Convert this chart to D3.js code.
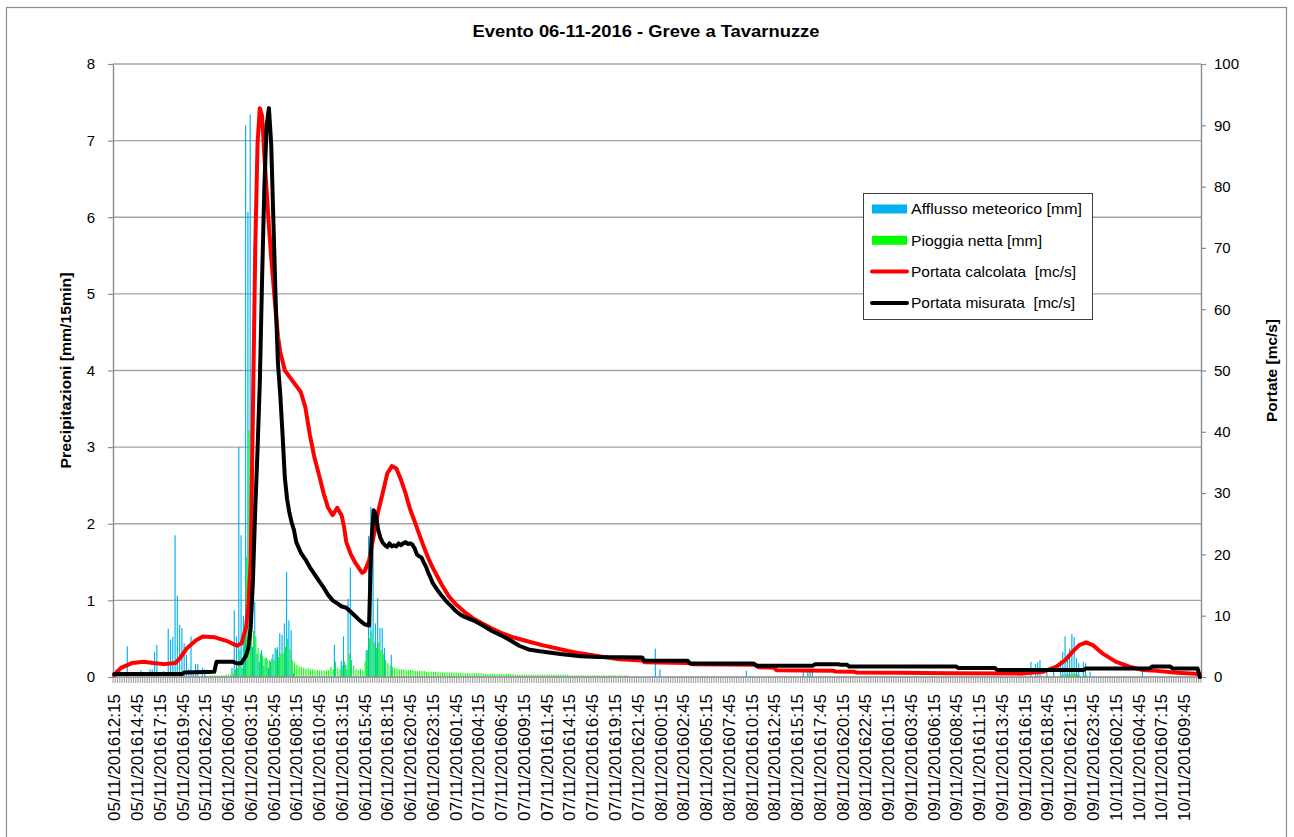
<!DOCTYPE html>
<html>
<head>
<meta charset="utf-8">
<script src="https://cdn.jsdelivr.net/npm/d3@7"></script>
<style>
  body { margin: 0; background: #fff; }
  svg { display: block; }
  text { font-family: "Liberation Sans", Arial, sans-serif; fill: #000; }
</style>
</head>
<body>
<svg id="chart" width="1294" height="837"></svg>
<script>
// ---- data: 15-minute steps starting at 05/11/2016 12:15 ----
const inizio = "05/11/2016 12:15";
const numeroIntervalli = 478;
const passoEtichette = 10;

// Afflusso meteorico [mm], one value per 15 min from the start
const afflusso = [
  0, 0.10, 0, 0, 0, 0, 0.40, 0, 0, 0,
  0, 0, 0.09, 0, 0, 0, 0.10, 0.10, 0.33, 0.42,
  0, 0, 0.08, 0, 0.63, 0.49, 0.52, 1.85, 1.06, 0.68,
  0.64, 0.44, 0.29, 0.10, 0.53, 0.08, 0.17, 0.17, 0, 0.12,
  0.10, 0, 0, 0, 0, 0, 0, 0, 0, 0,
  0, 0, 0.12, 0.87, 0.53, 3.00, 1.85, 0.80, 7.20, 6.07,
  7.34, 0.39, 0.98, 0.30, 0.20, 0.35, 0.15, 0.25, 0.12, 0.20,
  0.30, 0.38, 0.39, 0.57, 0.55, 0.70, 1.37, 0.74, 0.61, 0.05,
  0, 0, 0, 0, 0, 0, 0, 0, 0, 0,
  0, 0, 0, 0, 0, 0, 0, 0.42, 0, 0,
  0.21, 0.53, 0.16, 1.02, 1.43, 0, 0, 0, 0, 0,
  0, 0.35, 1.84, 2.22, 1.83, 0.70, 1.03, 0.64, 0.64, 0.38,
  0, 0, 0.29
];
// later isolated readings
const afflussoSparso = [
  ["07/11/2016 23:45", 0.37], ["08/11/2016 00:15", 0.10], ["08/11/2016 09:45", 0.08],
  ["08/11/2016 16:00", 0.08], ["08/11/2016 16:30", 0.07], ["08/11/2016 16:45", 0.08],
  ["08/11/2016 17:00", 0.08], ["09/11/2016 17:00", 0.20], ["09/11/2016 17:30", 0.17],
  ["09/11/2016 17:45", 0.19], ["09/11/2016 18:00", 0.22], ["09/11/2016 18:45", 0.06],
  ["09/11/2016 19:30", 0.08], ["09/11/2016 20:15", 0.22], ["09/11/2016 20:30", 0.33],
  ["09/11/2016 20:45", 0.53], ["09/11/2016 21:00", 0.29], ["09/11/2016 21:15", 0.37],
  ["09/11/2016 21:30", 0.56], ["09/11/2016 21:45", 0.52], ["09/11/2016 22:00", 0.25],
  ["09/11/2016 22:15", 0.18], ["09/11/2016 22:45", 0.20], ["09/11/2016 23:00", 0.18],
  ["09/11/2016 23:30", 0.07], ["10/11/2016 05:15", 0.08]
];

// Pioggia netta [mm], one value per 15 min from the start
const pioggiaNetta = [
  0, 0, 0, 0, 0, 0, 0, 0, 0, 0,
  0, 0, 0, 0, 0, 0, 0, 0, 0, 0,
  0, 0, 0, 0, 0, 0, 0, 0, 0, 0,
  0, 0, 0, 0, 0, 0, 0, 0, 0, 0,
  0.01, 0.01, 0.02, 0.02, 0.02, 0.02, 0.02, 0.02, 0.02, 0.03,
  0.03, 0.03, 0.05, 0.10, 0.12, 0.35, 0.12, 0.50, 1.57, 3.22,
  1.20, 0.60, 0.53, 0.38, 0.31, 0.28, 0.25, 0.23, 0.22, 0.24,
  0.22, 0.36, 0.26, 0.30, 0.31, 0.39, 0.50, 0.36, 0.22, 0.19,
  0.16, 0.14, 0.13, 0.12, 0.11, 0.11, 0.10, 0.10, 0.09, 0.09,
  0.085, 0.085, 0.085, 0.085, 0.09, 0.13, 0.10, 0.20, 0.12, 0.10,
  0.15, 0.20, 0.10, 0.30, 0.22, 0.15, 0.10, 0.09, 0.10, 0.09,
  0.20, 0.35, 0.51, 0.60, 0.45, 0.38, 0.45, 0.35, 0.30, 0.22,
  0.18, 0.15, 0.13, 0.12, 0.11, 0.10, 0.10, 0.10, 0.09, 0.09,
  0.09, 0.09, 0.08, 0.08, 0.08, 0.08, 0.08, 0.07, 0.07, 0.07,
  0.07, 0.07, 0.07, 0.06, 0.06, 0.06, 0.06, 0.06, 0.06, 0.06,
  0.06, 0.05, 0.05, 0.05, 0.05, 0.05, 0.05, 0.05, 0.05, 0.05,
  0.05, 0.05, 0.04, 0.04, 0.04, 0.04, 0.04, 0.04, 0.04, 0.04,
  0.04, 0.04, 0.04, 0.04, 0.04, 0.04, 0.03, 0.03, 0.03, 0.03,
  0.03, 0.03, 0.03, 0.03, 0.03, 0.03, 0.03, 0.03, 0.03, 0.03,
  0.03, 0.03, 0.03, 0.03, 0.03, 0.03, 0.03, 0.03, 0.03, 0.03,
  0.02, 0.02, 0.02, 0.02, 0.02, 0.02, 0.02, 0.02, 0.02, 0.02,
  0.02, 0.02, 0.02, 0.02, 0.02, 0.02, 0.02, 0.02, 0.02, 0.02,
  0.02, 0.02, 0.02, 0.02, 0.02, 0.02
];
const pioggiaSparsa = [
  ["09/11/2016 20:15", 0.02], ["09/11/2016 20:30", 0.03], ["09/11/2016 20:45", 0.04],
  ["09/11/2016 21:00", 0.03], ["09/11/2016 21:15", 0.03], ["09/11/2016 21:30", 0.04],
  ["09/11/2016 21:45", 0.04], ["09/11/2016 22:00", 0.03], ["09/11/2016 22:15", 0.02],
  ["09/11/2016 22:45", 0.02], ["09/11/2016 23:00", 0.02]
];

// Portata calcolata [mc/s]
const portataCalcolata = [
  ["05/11/2016 12:15", 0.3], ["05/11/2016 13:00", 1.5], ["05/11/2016 14:15", 2.3],
  ["05/11/2016 15:30", 2.5], ["05/11/2016 16:30", 2.3], ["05/11/2016 17:45", 2.1],
  ["05/11/2016 19:00", 2.3], ["05/11/2016 19:30", 3.1], ["05/11/2016 20:15", 4.7],
  ["05/11/2016 21:15", 6.0], ["05/11/2016 22:00", 6.6], ["05/11/2016 23:15", 6.5],
  ["06/11/2016 00:45", 5.8], ["06/11/2016 01:45", 5.1], ["06/11/2016 02:15", 5.5],
  ["06/11/2016 02:45", 8.2], ["06/11/2016 03:00", 12], ["06/11/2016 03:15", 19],
  ["06/11/2016 03:30", 44], ["06/11/2016 03:45", 70], ["06/11/2016 04:00", 87],
  ["06/11/2016 04:15", 92.8], ["06/11/2016 04:30", 91.5], ["06/11/2016 04:45", 85],
  ["06/11/2016 05:00", 79.4], ["06/11/2016 05:15", 73.5], ["06/11/2016 05:30", 68.5],
  ["06/11/2016 05:45", 64], ["06/11/2016 06:00", 59.5], ["06/11/2016 06:15", 55.5],
  ["06/11/2016 06:30", 53], ["06/11/2016 06:45", 51.5], ["06/11/2016 07:00", 50],
  ["06/11/2016 07:30", 49], ["06/11/2016 08:00", 48], ["06/11/2016 08:30", 47],
  ["06/11/2016 08:45", 46.5], ["06/11/2016 09:15", 44], ["06/11/2016 09:45", 39.5],
  ["06/11/2016 10:15", 35.8], ["06/11/2016 10:45", 33], ["06/11/2016 11:15", 30],
  ["06/11/2016 11:45", 27.6], ["06/11/2016 12:15", 26.4], ["06/11/2016 12:45", 27.6],
  ["06/11/2016 13:15", 26.3], ["06/11/2016 13:30", 24.5], ["06/11/2016 13:45", 22],
  ["06/11/2016 14:15", 20], ["06/11/2016 14:45", 18.6], ["06/11/2016 15:15", 17.5],
  ["06/11/2016 15:30", 17], ["06/11/2016 15:45", 17.2], ["06/11/2016 16:15", 19],
  ["06/11/2016 16:30", 21], ["06/11/2016 16:45", 23], ["06/11/2016 17:00", 25],
  ["06/11/2016 17:15", 27], ["06/11/2016 17:45", 30], ["06/11/2016 18:15", 33.2],
  ["06/11/2016 18:45", 34.4], ["06/11/2016 19:15", 34], ["06/11/2016 19:45", 32.2],
  ["06/11/2016 20:15", 30], ["06/11/2016 20:45", 27.4], ["06/11/2016 21:15", 25.4],
  ["06/11/2016 21:45", 23.3], ["06/11/2016 22:15", 21.3], ["06/11/2016 22:45", 19.4],
  ["06/11/2016 23:15", 17.8], ["06/11/2016 23:45", 16.4], ["07/11/2016 00:15", 15],
  ["07/11/2016 01:00", 13.2], ["07/11/2016 01:45", 11.9], ["07/11/2016 02:45", 10.6],
  ["07/11/2016 03:45", 9.5], ["07/11/2016 04:45", 8.7], ["07/11/2016 05:45", 7.9],
  ["07/11/2016 06:45", 7.2], ["07/11/2016 08:15", 6.4], ["07/11/2016 09:45", 5.8],
  ["07/11/2016 11:15", 5.2], ["07/11/2016 13:00", 4.6], ["07/11/2016 15:15", 3.9],
  ["07/11/2016 17:30", 3.4], ["07/11/2016 19:45", 2.9], ["07/11/2016 22:15", 2.7],
  ["07/11/2016 22:30", 2.4], ["08/11/2016 03:15", 2.3], ["08/11/2016 03:45", 2.1],
  ["08/11/2016 10:45", 2.0], ["08/11/2016 11:00", 1.6], ["08/11/2016 12:45", 1.5],
  ["08/11/2016 13:00", 1.1], ["08/11/2016 19:15", 1.0], ["08/11/2016 19:30", 0.9],
  ["08/11/2016 21:30", 0.85], ["08/11/2016 21:45", 0.75], ["09/11/2016 02:30", 0.7],
  ["09/11/2016 08:00", 0.6], ["09/11/2016 16:00", 0.55], ["09/11/2016 18:15", 0.85],
  ["09/11/2016 19:45", 1.7], ["09/11/2016 20:45", 2.8], ["09/11/2016 21:30", 4.1],
  ["09/11/2016 22:15", 5.2], ["09/11/2016 23:00", 5.65], ["09/11/2016 23:45", 5.2],
  ["10/11/2016 00:45", 3.9], ["10/11/2016 02:15", 2.5], ["10/11/2016 03:45", 1.7],
  ["10/11/2016 05:15", 1.15], ["10/11/2016 06:45", 1.0], ["10/11/2016 09:00", 0.7],
  ["10/11/2016 11:30", 0.5]
];

// Portata misurata [mc/s]
const portataMisurata = [
  ["05/11/2016 12:15", 0.5], ["05/11/2016 19:45", 0.5], ["05/11/2016 20:00", 0.75],
  ["05/11/2016 23:15", 0.85], ["05/11/2016 23:30", 2.5], ["06/11/2016 01:15", 2.5],
  ["06/11/2016 01:45", 2.2], ["06/11/2016 02:15", 2.3], ["06/11/2016 02:45", 3.5],
  ["06/11/2016 03:00", 4.8], ["06/11/2016 03:15", 8], ["06/11/2016 03:30", 16],
  ["06/11/2016 03:45", 27.5], ["06/11/2016 04:00", 37], ["06/11/2016 04:15", 48],
  ["06/11/2016 04:30", 65], ["06/11/2016 04:45", 80], ["06/11/2016 05:00", 90],
  ["06/11/2016 05:15", 92.8], ["06/11/2016 05:30", 87], ["06/11/2016 05:45", 74],
  ["06/11/2016 06:00", 61], ["06/11/2016 06:15", 51], ["06/11/2016 06:30", 46],
  ["06/11/2016 06:45", 39.5], ["06/11/2016 07:00", 32.5], ["06/11/2016 07:15", 29],
  ["06/11/2016 07:30", 26.8], ["06/11/2016 07:45", 25.2], ["06/11/2016 08:00", 24],
  ["06/11/2016 08:15", 22], ["06/11/2016 08:45", 20.3], ["06/11/2016 09:15", 19.2],
  ["06/11/2016 09:45", 17.9], ["06/11/2016 10:15", 16.8], ["06/11/2016 10:45", 15.7],
  ["06/11/2016 11:15", 14.6], ["06/11/2016 11:45", 13.4], ["06/11/2016 12:15", 12.5],
  ["06/11/2016 12:45", 12], ["06/11/2016 13:15", 11.5], ["06/11/2016 13:45", 11.3],
  ["06/11/2016 14:15", 10.6], ["06/11/2016 14:45", 9.9], ["06/11/2016 15:15", 9.2],
  ["06/11/2016 15:45", 8.6], ["06/11/2016 16:15", 8.4], ["06/11/2016 16:30", 22],
  ["06/11/2016 16:45", 27.2], ["06/11/2016 17:00", 26.5], ["06/11/2016 17:15", 24],
  ["06/11/2016 17:30", 22.7], ["06/11/2016 17:45", 21.9], ["06/11/2016 18:00", 21.5],
  ["06/11/2016 18:15", 21.2], ["06/11/2016 18:30", 21.8], ["06/11/2016 18:45", 21.3],
  ["06/11/2016 19:00", 21.5], ["06/11/2016 19:15", 21.3], ["06/11/2016 19:30", 21.8],
  ["06/11/2016 19:45", 21.5], ["06/11/2016 20:00", 21.8], ["06/11/2016 20:15", 22],
  ["06/11/2016 20:30", 21.7], ["06/11/2016 20:45", 21.8], ["06/11/2016 21:00", 21.6],
  ["06/11/2016 21:15", 21], ["06/11/2016 21:30", 20], ["06/11/2016 21:45", 19.7],
  ["06/11/2016 22:00", 19.5], ["06/11/2016 22:15", 18.7], ["06/11/2016 22:30", 18],
  ["06/11/2016 22:45", 17], ["06/11/2016 23:00", 16.2], ["06/11/2016 23:15", 15.3],
  ["06/11/2016 23:45", 14.2], ["07/11/2016 00:15", 13.2], ["07/11/2016 00:45", 12.3],
  ["07/11/2016 01:15", 11.6], ["07/11/2016 01:45", 10.8], ["07/11/2016 02:15", 10.2],
  ["07/11/2016 02:45", 9.8], ["07/11/2016 03:45", 9.2], ["07/11/2016 04:45", 8.4],
  ["07/11/2016 05:45", 7.5], ["07/11/2016 06:45", 6.8], ["07/11/2016 07:45", 6.0],
  ["07/11/2016 08:45", 5.1], ["07/11/2016 09:45", 4.5], ["07/11/2016 11:00", 4.2],
  ["07/11/2016 13:15", 3.75], ["07/11/2016 15:30", 3.4], ["07/11/2016 17:30", 3.25],
  ["07/11/2016 22:15", 3.2], ["07/11/2016 22:30", 2.65], ["08/11/2016 03:15", 2.65],
  ["08/11/2016 03:30", 2.2], ["08/11/2016 10:30", 2.2], ["08/11/2016 10:45", 1.85],
  ["08/11/2016 17:00", 1.85], ["08/11/2016 17:15", 2.1], ["08/11/2016 19:45", 2.1],
  ["08/11/2016 20:00", 2.0], ["08/11/2016 20:45", 2.0], ["08/11/2016 21:00", 1.7],
  ["09/11/2016 08:45", 1.7], ["09/11/2016 09:00", 1.45], ["09/11/2016 13:00", 1.45],
  ["09/11/2016 13:15", 1.15], ["09/11/2016 22:45", 1.15], ["09/11/2016 23:00", 1.4],
  ["10/11/2016 06:00", 1.4], ["10/11/2016 06:15", 1.7], ["10/11/2016 08:15", 1.7],
  ["10/11/2016 08:30", 1.4], ["10/11/2016 11:15", 1.4], ["10/11/2016 11:30", 0]
];

const tickPrecipitazioni = [0, 1, 2, 3, 4, 5, 6, 7, 8];
const tickPortate = [0, 10, 20, 30, 40, 50, 60, 70, 80, 90, 100];

const titolo = "Evento 06-11-2016 - Greve a Tavarnuzze";
const titoloSinistro = "Precipitazioni [mm/15min]";
const titoloDestro = "Portate [mc/s]";
const vociLegenda = [
  { nome: "Afflusso meteorico [mm]", tipo: "barra", colore: "#00B0F0", lunghezza: 171 },
  { nome: "Pioggia netta [mm]", tipo: "barra", colore: "#00FF00", lunghezza: 131 },
  { nome: "Portata calcolata  [mc/s]", tipo: "linea", colore: "#FF0000", lunghezza: 165 },
  { nome: "Portata misurata  [mc/s]", tipo: "linea", colore: "#000000", lunghezza: 164 }
];

// ---- time categories ----
const parse = d3.utcParse("%d/%m/%Y %H:%M");
const etichetta = d3.utcFormat("%d/%m/%Y%H:%M");
const t0 = parse(inizio);
const tempi = d3.utcMinute.every(15).range(t0, d3.utcMinute.offset(t0, 15 * numeroIntervalli));
const categorie = tempi.map(etichetta);
const chiave = s => etichetta(parse(s));

const mappaAfflusso = new Map(categorie.map((c, i) => [c, afflusso[i] || 0]));
afflussoSparso.forEach(([t, v]) => mappaAfflusso.set(chiave(t), v));
const mappaPioggia = new Map(categorie.map((c, i) => [c, pioggiaNetta[i] || 0]));
pioggiaSparsa.forEach(([t, v]) => mappaPioggia.set(chiave(t), v));

// ---- layout ----
const svg = d3.select("#chart");
const area = { left: 113, right: 1201, top: 64, bottom: 677 };

const x = d3.scaleBand().domain(categorie).range([area.left, area.right]).padding(0);
const bw = x.bandwidth();
const yL = d3.scaleLinear().domain([0, 8]).range([area.bottom, area.top]);
const yR = d3.scaleLinear().domain([0, 100]).range([area.bottom, area.top]);

// chart frame
svg.append("rect").attr("x", 6.5).attr("y", 7.5).attr("width", 1280).attr("height", 840)
  .attr("fill", "#fff").attr("stroke", "#8c8c8c").attr("stroke-width", 1.2);

// title
svg.append("text").attr("x", 646).attr("y", 37).attr("text-anchor", "middle")
  .style("font-size", "17px").style("font-weight", "bold")
  .attr("textLength", 347).attr("lengthAdjust", "spacingAndGlyphs")
  .text(titolo);

// horizontal gridlines
svg.append("g").selectAll("line").data(tickPrecipitazioni.filter(v => v > 0)).join("line")
  .attr("x1", area.left).attr("x2", area.right)
  .attr("y1", d => yL(d)).attr("y2", d => yL(d))
  .attr("stroke", "#a3a3a3").attr("stroke-width", 1.4);

// bars
const gBarre = svg.append("g");
gBarre.selectAll("rect.aff").data(categorie.filter(c => mappaAfflusso.get(c) > 0)).join("rect")
  .attr("class", "aff")
  .attr("x", c => x(c) + bw * 0.02).attr("width", bw * 0.5)
  .attr("y", c => yL(mappaAfflusso.get(c)))
  .attr("height", c => yL(0) - yL(mappaAfflusso.get(c)))
  .attr("fill", "#00B0F0");
gBarre.selectAll("rect.pn").data(categorie.filter(c => mappaPioggia.get(c) > 0)).join("rect")
  .attr("class", "pn")
  .attr("x", c => x(c) + bw * 0.52).attr("width", bw * 0.48)
  .attr("y", c => yL(mappaPioggia.get(c)))
  .attr("height", c => yL(0) - yL(mappaPioggia.get(c)))
  .attr("fill", "#00FF00");

// category tick marks along the bottom
const confini = categorie.map(c => x(c)).concat([area.right]);
svg.append("g").selectAll("line").data(confini).join("line")
  .attr("x1", d => d).attr("x2", d => d)
  .attr("y1", area.bottom).attr("y2", area.bottom + 6)
  .attr("stroke", "#8c8c8c").attr("stroke-width", 0.9);

// x axis baseline
svg.append("line").attr("x1", area.left).attr("x2", area.right)
  .attr("y1", area.bottom).attr("y2", area.bottom)
  .attr("stroke", "#8c8c8c").attr("stroke-width", 1.4);

// x labels, one every 10 steps
const etichetteX = categorie.filter((c, i) => i % passoEtichette === 0);
svg.append("g").selectAll("text").data(etichetteX).join("text")
  .attr("transform", c => `translate(${x(c) + bw / 2},694) rotate(-90)`)
  .attr("dy", "0.36em").attr("text-anchor", "end")
  .style("font-size", "17px")
  .attr("textLength", 127).attr("lengthAdjust", "spacingAndGlyphs")
  .text(c => c);

// left axis
const assL = svg.append("g").attr("transform", `translate(${area.left},0)`)
  .call(d3.axisLeft(yL).tickValues(tickPrecipitazioni).tickFormat(d3.format("d"))
    .tickSize(5).tickSizeOuter(0).tickPadding(13));
assL.select(".domain").attr("stroke", "#8c8c8c").attr("stroke-width", 1.4);
assL.selectAll(".tick line").attr("stroke", "#8c8c8c").attr("stroke-width", 1.2);
assL.selectAll(".tick text").style("font-size", "15px").style("font-family", "Liberation Sans, Arial, sans-serif");

// right axis
const assR = svg.append("g").attr("transform", `translate(${area.right},0)`)
  .call(d3.axisRight(yR).tickValues(tickPortate).tickFormat(d3.format("d"))
    .tickSize(5).tickSizeOuter(0).tickPadding(8));
assR.select(".domain").attr("stroke", "#8c8c8c").attr("stroke-width", 1.4);
assR.selectAll(".tick line").attr("stroke", "#8c8c8c").attr("stroke-width", 1.2);
assR.selectAll(".tick text").style("font-size", "15px").style("font-family", "Liberation Sans, Arial, sans-serif");

// axis titles
svg.append("text").attr("transform", `translate(71,${(area.top + area.bottom) / 2}) rotate(-90)`)
  .attr("text-anchor", "middle").style("font-size", "15px").style("font-weight", "bold")
  .attr("textLength", 196).attr("lengthAdjust", "spacingAndGlyphs")
  .text(titoloSinistro);
svg.append("text").attr("transform", `translate(1277,${(area.top + area.bottom) / 2}) rotate(-90)`)
  .attr("text-anchor", "middle").style("font-size", "15px").style("font-weight", "bold")
  .attr("textLength", 103).attr("lengthAdjust", "spacingAndGlyphs")
  .text(titoloDestro);

// flow lines on the secondary axis
const linea = d3.line()
  .x(d => x(chiave(d[0])) + bw / 2)
  .y(d => yR(d[1]));
svg.append("path").datum(portataCalcolata).attr("d", linea)
  .attr("fill", "none").attr("stroke", "#FF0000").attr("stroke-width", 4)
  .attr("stroke-linejoin", "round").attr("stroke-linecap", "round");
svg.append("path").datum(portataMisurata).attr("d", linea)
  .attr("fill", "none").attr("stroke", "#000000").attr("stroke-width", 4)
  .attr("stroke-linejoin", "round").attr("stroke-linecap", "round");

// legend
const leg = svg.append("g").attr("transform", "translate(863,193)");
leg.append("rect").attr("x", 0.5).attr("y", 0.5).attr("width", 229).attr("height", 126)
  .attr("fill", "#fff").attr("stroke", "#404040").attr("stroke-width", 1);
vociLegenda.forEach((v, i) => {
  const cy = 16 + i * 31.3;
  if (v.tipo === "barra") {
    leg.append("rect").attr("x", 9).attr("y", cy - 4.5).attr("width", 35).attr("height", 9).attr("fill", v.colore);
  } else {
    leg.append("line").attr("x1", 9).attr("x2", 44).attr("y1", cy).attr("y2", cy)
      .attr("stroke", v.colore).attr("stroke-width", 4).attr("stroke-linecap", "round");
  }
  leg.append("text").attr("x", 48).attr("y", cy).attr("dy", "0.36em")
    .style("font-size", "15px").style("white-space", "pre")
    .attr("textLength", v.lunghezza).attr("lengthAdjust", "spacingAndGlyphs")
    .text(v.nome);
});
</script>
</body>
</html>
